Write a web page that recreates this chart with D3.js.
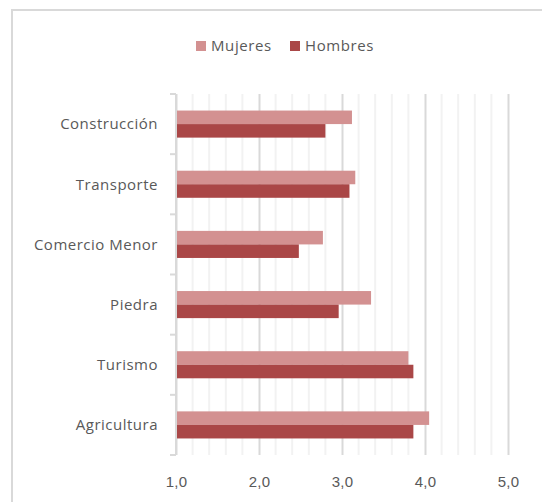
<!DOCTYPE html>
<html>
<head>
<meta charset="utf-8">
<script src="https://cdn.jsdelivr.net/npm/d3@7"></script>
<style>
  body { margin: 0; background: #fff; }
  svg { display: block; font-family: "Open Sans", sans-serif; }
</style>
</head>
<body>
<div id="chart"></div>
<script>
// Data
const categories = ["Construcción", "Transporte", "Comercio Menor", "Piedra", "Turismo", "Agricultura"];
const seriesNames = ["Mujeres", "Hombres"];
const mujeres = [3.12, 3.16, 2.77, 3.35, 3.80, 4.05];
const hombres = [2.80, 3.09, 2.48, 2.96, 3.86, 3.86];
const xTicks = [1, 2, 3, 4, 5];

const colors = { Mujeres: "#d39191", Hombres: "#aa4747" };

const W = 542, H = 502;
const margin = { top: 94, right: 34, bottom: 47, left: 176 };
const width = W - margin.left - margin.right,
  height = H - margin.top - margin.bottom;

const rows = categories.map((c, i) => ({ cat: c, Mujeres: mujeres[i], Hombres: hombres[i] }));

const svgRoot = d3.select("#chart").append("svg")
  .attr("width", W)
  .attr("height", H);

// outer chart frame (runs off the right and bottom edge)
svgRoot.append("rect")
  .attr("x", 12).attr("y", 10)
  .attr("width", 560).attr("height", 520)
  .attr("fill", "none")
  .attr("stroke", "#d9d9d9")
  .attr("stroke-width", 2);

const svg = svgRoot.append("g")
  .attr("transform", `translate(${margin.left},${margin.top})`);

const x = d3.scaleLinear().domain([1, 5]).range([0, width]);
const y = d3.scaleBand().domain(categories).range([0, height]).paddingInner(0.55).paddingOuter(0.275);
const ySub = d3.scaleBand().domain(seriesNames).range([0, y.bandwidth()]);

// minor gridlines every 0.2
const minor = d3.range(1.2, 5, 0.2).filter(v => Math.abs(v - Math.round(v)) > 0.01);
svg.append("g").selectAll("line")
  .data(minor).join("line")
  .attr("x1", d => x(d)).attr("x2", d => x(d))
  .attr("y1", 0).attr("y2", height)
  .attr("stroke", "#f2f2f2").attr("stroke-width", 2);

// major gridlines + tick labels
const xAxis = svg.append("g")
  .attr("transform", `translate(0,${height})`)
  .call(d3.axisBottom(x).tickValues(xTicks).tickSize(height).tickPadding(0)
    .tickFormat(d => d3.format(".1f")(d).replace(".", ",")));
xAxis.select(".domain").remove();
xAxis.selectAll(".tick line")
  .attr("transform", `translate(0,${-height})`)
  .attr("stroke", "#d9d9d9").attr("stroke-width", 2);
xAxis.selectAll(".tick text")
  .attr("y", 27)
  .attr("dy", "0.32em")
  .attr("fill", "#595959")
  .style("font-size", "15px")
  .style("letter-spacing", "0.3px");

// bars
const groups = svg.append("g").selectAll("g")
  .data(rows).join("g")
  .attr("transform", d => `translate(0,${y(d.cat)})`);
groups.selectAll("rect")
  .data(d => seriesNames.map(s => ({ s, v: d[s] })))
  .join("rect")
  .attr("x", x(1))
  .attr("y", d => ySub(d.s))
  .attr("width", d => x(d.v) - x(1))
  .attr("height", ySub.bandwidth())
  .attr("fill", d => colors[d.s]);

// category axis with ticks between bands
const yAxisG = svg.append("g");
yAxisG.append("line")
  .attr("x1", 0).attr("x2", 0).attr("y1", 0).attr("y2", height)
  .attr("stroke", "#d9d9d9").attr("stroke-width", 2);
const bounds = d3.range(categories.length + 1).map(i => i * height / categories.length);
yAxisG.selectAll(".sep").data(bounds).join("line")
  .attr("class", "sep")
  .attr("x1", -6).attr("x2", 0)
  .attr("y1", d => d).attr("y2", d => d)
  .attr("stroke", "#d9d9d9").attr("stroke-width", 2);
yAxisG.selectAll("text").data(categories).join("text")
  .attr("x", -18)
  .attr("y", d => y(d) + y.bandwidth() / 2)
  .attr("dy", "0.35em")
  .attr("text-anchor", "end")
  .attr("fill", "#595959")
  .style("font-size", "15px")
  .style("letter-spacing", "0.5px")
  .text(d => d);

// legend
const legend = svgRoot.append("g").attr("transform", "translate(196,41)");
const legendX = [0, 94];
seriesNames.forEach((s, i) => {
  const g = legend.append("g").attr("transform", `translate(${legendX[i]},0)`);
  g.append("rect").attr("width", 10).attr("height", 10).attr("fill", colors[s]);
  g.append("text")
    .attr("x", 15).attr("y", 5).attr("dy", "0.35em")
    .attr("fill", "#595959")
    .style("font-size", "15px")
    .style("letter-spacing", "0.6px")
    .text(s);
});
</script>
</body>
</html>
